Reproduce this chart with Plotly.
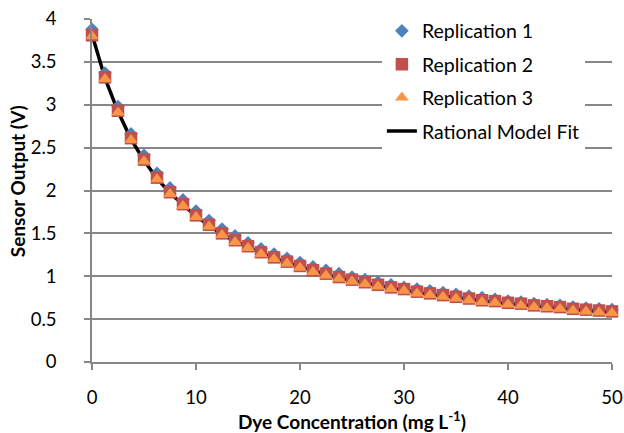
import plotly.graph_objects as go

conc = [0, 1.25, 2.5, 3.75, 5, 6.25, 7.5, 8.75, 10, 11.25, 12.5, 13.75, 15, 16.25, 17.5,
        18.75, 20, 21.25, 22.5, 23.75, 25, 26.25, 27.5, 28.75, 30, 31.25, 32.5, 33.75,
        35, 36.25, 37.5, 38.75, 40, 41.25, 42.5, 43.75, 45, 46.25, 47.5, 48.75, 50]

rep1 = [3.88, 3.37, 2.98, 2.66, 2.41, 2.20, 2.03, 1.89, 1.76, 1.65, 1.55, 1.47, 1.39, 1.32,
        1.26, 1.21, 1.16, 1.11, 1.07, 1.03, 0.99, 0.96, 0.93, 0.90, 0.87, 0.85, 0.83, 0.81,
        0.79, 0.77, 0.75, 0.73, 0.71, 0.70, 0.68, 0.67, 0.66, 0.64, 0.63, 0.62, 0.61]
rep2 = [3.81, 3.32, 2.93, 2.61, 2.36, 2.15, 1.98, 1.84, 1.71, 1.60, 1.50, 1.42, 1.35, 1.28,
        1.22, 1.17, 1.12, 1.07, 1.03, 0.99, 0.96, 0.93, 0.90, 0.87, 0.85, 0.82, 0.80, 0.78,
        0.76, 0.74, 0.72, 0.71, 0.69, 0.68, 0.66, 0.65, 0.64, 0.62, 0.61, 0.60, 0.59]
rep3 = [3.80, 3.30, 2.91, 2.59, 2.34, 2.13, 1.96, 1.82, 1.69, 1.58, 1.48, 1.40, 1.33, 1.26,
        1.20, 1.15, 1.10, 1.05, 1.01, 0.97, 0.94, 0.91, 0.88, 0.85, 0.83, 0.80, 0.78, 0.76,
        0.74, 0.72, 0.70, 0.69, 0.67, 0.66, 0.64, 0.63, 0.62, 0.60, 0.59, 0.58, 0.57]
model = [3.82, 3.31, 2.92, 2.60, 2.35, 2.14, 1.97, 1.83, 1.70, 1.59, 1.49, 1.41, 1.34, 1.27,
         1.21, 1.16, 1.11, 1.06, 1.02, 0.98, 0.95, 0.92, 0.89, 0.86, 0.84, 0.81, 0.79, 0.77,
         0.75, 0.73, 0.71, 0.70, 0.68, 0.67, 0.65, 0.64, 0.63, 0.61, 0.60, 0.59, 0.58]

FONT = "Lato, 'Open Sans', sans-serif"
GRAY = "#878787"

fig = go.Figure()
fig.add_trace(go.Scatter(x=conc, y=model, mode="lines", name="Rational Model Fit",
                         line=dict(color="black", width=3.5), legendrank=4,
                         legendgroup="d", cliponaxis=False))
fig.add_trace(go.Scatter(x=conc, y=rep1, mode="markers", name="Replication 1",
                         marker=dict(symbol="diamond", size=10.5, color="#4F81BD"),
                         legendrank=1, legendgroup="a", cliponaxis=False))
fig.add_trace(go.Scatter(x=conc, y=rep2, mode="markers", name="Replication 2",
                         marker=dict(symbol="square", size=12.5, color="#C0504D"),
                         legendrank=2, legendgroup="b", cliponaxis=False))
fig.add_trace(go.Scatter(x=conc, y=rep3, mode="markers", name="Replication 3",
                         marker=dict(symbol="triangle-up", size=12, color="#F79646"),
                         legendrank=3, legendgroup="c", cliponaxis=False))

fig.update_layout(
    width=624, height=433,
    margin=dict(l=92, r=12, t=19, b=71, autoexpand=False),
    paper_bgcolor="white", plot_bgcolor="white",
    font=dict(family=FONT, size=18.5, color="black"),
    showlegend=True,
    legend=dict(xref="container", yref="container", x=0.612, xanchor="left",
                y=0.973, yanchor="top",
                bgcolor="white", borderwidth=0, tracegroupgap=5,
                font=dict(size=19.5, family=FONT), traceorder="grouped"),
    xaxis=dict(range=[0, 50], dtick=10, showgrid=False, zeroline=False, automargin=False,
               showline=True, linecolor=GRAY, linewidth=1.5,
               ticks="outside", ticklen=6, tickcolor=GRAY, tickwidth=1.5,
               ticklabelstandoff=12,
               tickfont=dict(size=18.5, family=FONT)),
    yaxis=dict(range=[0, 4], dtick=0.5, showgrid=True, gridcolor=GRAY, gridwidth=1.5,
               zeroline=False, showline=True, linecolor=GRAY, linewidth=1.5, automargin=False,
               ticks="outside", ticklen=6, tickcolor=GRAY, tickwidth=1.5,
               ticklabelstandoff=24,
               tickfont=dict(size=18.5, family=FONT)),
    annotations=[
        dict(text="<b>Dye Concentration (mg L<sup>-1</sup>)</b>", xref="paper", yref="paper",
             x=0.5, y=-0.214, xanchor="center", yanchor="bottom", showarrow=False,
             font=dict(size=19, family=FONT)),
        dict(text="<b>Sensor Output (V)</b>", xref="paper", yref="paper",
             x=-0.143, y=0.526, xanchor="center", yanchor="middle", showarrow=False,
             textangle=-90, font=dict(size=19, family=FONT)),
    ],
)

fig.write_html("out.html", config={"displayModeBar": False},
               post_script="document.body.style.margin='0';document.body.style.overflow='hidden';")
